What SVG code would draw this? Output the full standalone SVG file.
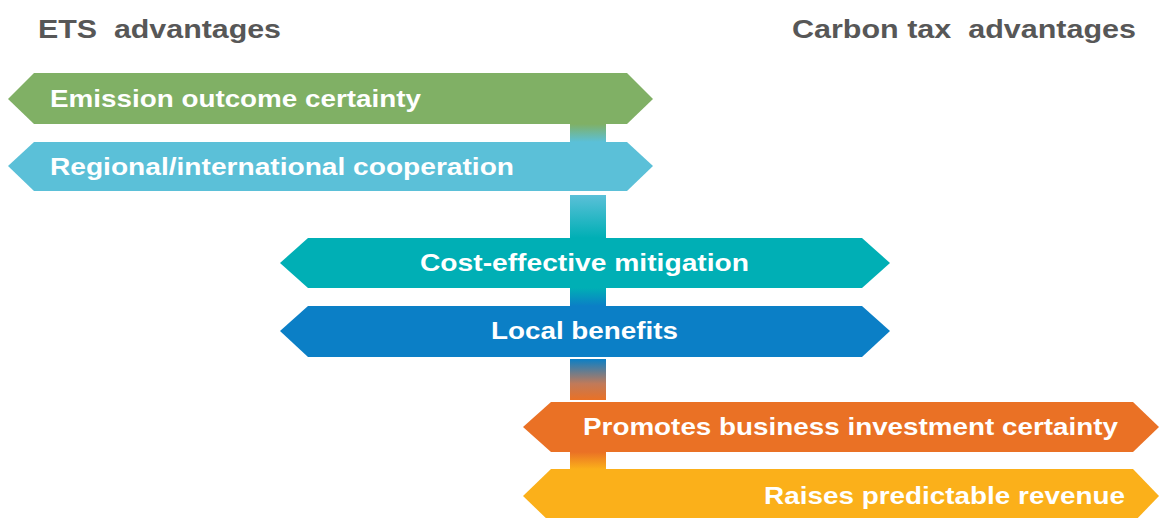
<svg xmlns="http://www.w3.org/2000/svg" width="1161" height="518" viewBox="0 0 1161 518">
  <style>
    .title { font-family: "Liberation Sans", Arial, sans-serif; font-weight: bold; font-size: 26px; fill: #575757; white-space: pre; }
    .label { font-family: "Liberation Sans", Arial, sans-serif; font-weight: bold; font-size: 24px; fill: #ffffff; }
  </style>
  <defs>
    <linearGradient id="g-green-cyan" x1="0" y1="0" x2="0" y2="1">
      <stop offset="0" stop-color="#80b065"/>
      <stop offset="1" stop-color="#5bc0d8"/>
    </linearGradient>
    <linearGradient id="g-cyan-teal" x1="0" y1="0" x2="0" y2="1">
      <stop offset="0" stop-color="#5bc0d8"/>
      <stop offset="1" stop-color="#00afb5"/>
    </linearGradient>
    <linearGradient id="g-teal-blue" x1="0" y1="0" x2="0" y2="1">
      <stop offset="0" stop-color="#00afb5"/>
      <stop offset="1" stop-color="#0b7fc6"/>
    </linearGradient>
    <linearGradient id="g-blue-orange" x1="0" y1="0" x2="0" y2="1">
      <stop offset="0" stop-color="#0b7fc6"/>
      <stop offset="0.6" stop-color="#c07a5a"/>
      <stop offset="1" stop-color="#ea7125"/>
    </linearGradient>
    <linearGradient id="g-orange-yellow" x1="0" y1="0" x2="0" y2="1">
      <stop offset="0" stop-color="#ea7125"/>
      <stop offset="1" stop-color="#fbb01a"/>
    </linearGradient>
  </defs>

  <rect width="1161" height="518" fill="#ffffff"/>

  <!-- column headings -->
  <text class="title" xml:space="preserve" x="38" y="38" textLength="243" lengthAdjust="spacingAndGlyphs">ETS  advantages</text>
  <text class="title" xml:space="preserve" x="792" y="38" textLength="344" lengthAdjust="spacingAndGlyphs">Carbon tax  advantages</text>

  <!-- vertical spine segments joining the bars -->
  <g id="connectors">
    <rect x="570" y="124" width="36" height="18" fill="url(#g-green-cyan)"/>
    <rect x="570" y="195" width="36" height="43" fill="url(#g-cyan-teal)"/>
    <rect x="570" y="288" width="36" height="18" fill="url(#g-teal-blue)"/>
    <rect x="570" y="359" width="36" height="41" fill="url(#g-blue-orange)"/>
    <rect x="570" y="452" width="36" height="17" fill="url(#g-orange-yellow)"/>
  </g>

  <g id="emission-outcome-certainty">
    <polygon points="8,99 34,73 627,73 653,99 627,124 34,124" fill="#80b065"/>
    <text class="label" x="50" y="107" textLength="371" lengthAdjust="spacingAndGlyphs">Emission outcome certainty</text>
  </g>

  <g id="regional-cooperation">
    <polygon points="8,166 34,142 627,142 653,166 627,191 34,191" fill="#5bc0d8"/>
    <text class="label" x="50" y="175" textLength="464" lengthAdjust="spacingAndGlyphs">Regional/international cooperation</text>
  </g>

  <g id="cost-effective-mitigation">
    <polygon points="280,263 308,238 862,238 890,263 862,288 308,288" fill="#00afb5"/>
    <text class="label" x="420" y="271" textLength="329" lengthAdjust="spacingAndGlyphs">Cost-effective mitigation</text>
  </g>

  <g id="local-benefits">
    <polygon points="280,331 308,306 862,306 890,331 862,357 308,357" fill="#0b7fc6"/>
    <text class="label" x="491" y="339" textLength="187" lengthAdjust="spacingAndGlyphs">Local benefits</text>
  </g>

  <g id="business-investment-certainty">
    <polygon points="523,427 551,402 1133,402 1159,427 1133,452 551,452" fill="#ea7125"/>
    <text class="label" x="583" y="435" textLength="535" lengthAdjust="spacingAndGlyphs">Promotes business investment certainty</text>
  </g>

  <g id="predictable-revenue">
    <polygon points="523,496 551,469 1133,469 1159,496 1133,523 551,523" fill="#fbb01a"/>
    <text class="label" x="764" y="504" textLength="361" lengthAdjust="spacingAndGlyphs">Raises predictable revenue</text>
  </g>
</svg>
